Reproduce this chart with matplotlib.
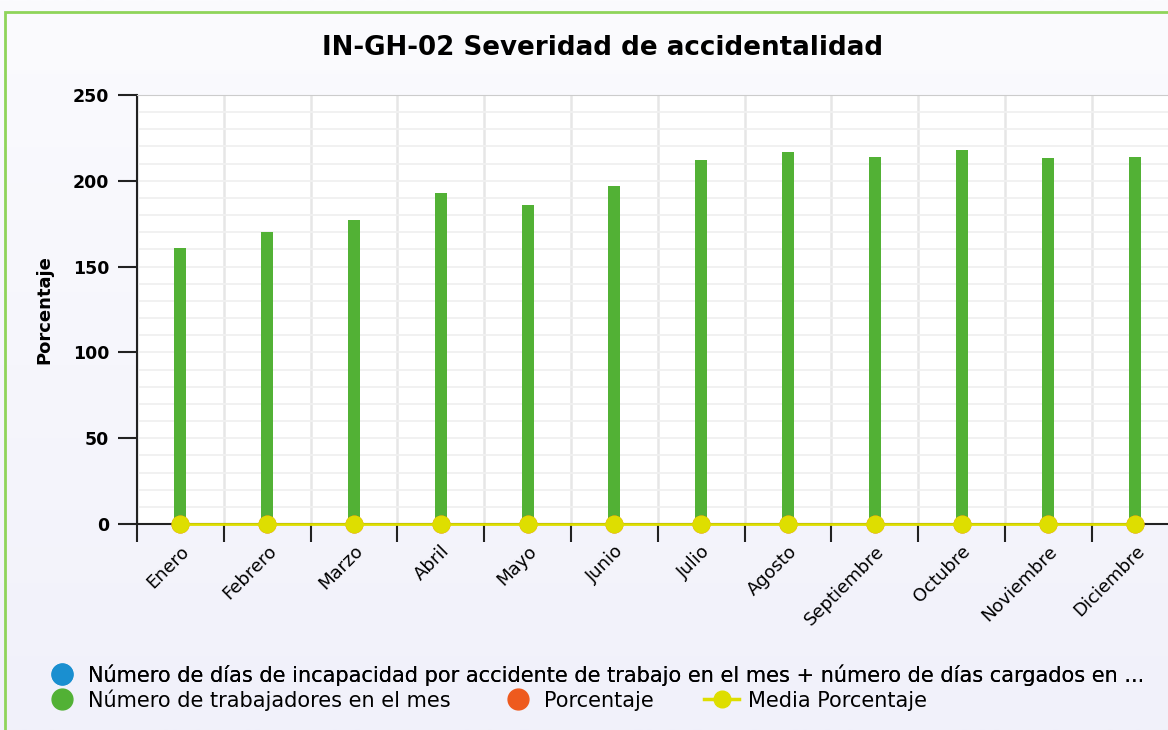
import matplotlib
matplotlib.use("Agg")
import matplotlib.pyplot as plt
import matplotlib.patches as mpatches
from matplotlib.lines import Line2D
import numpy as np

# datos del indicador
meses = ["Enero", "Febrero", "Marzo", "Abril", "Mayo", "Junio", "Julio",
         "Agosto", "Septiembre", "Octubre", "Noviembre", "Diciembre"]
dias_incapacidad = [0, 0, 0, 0, 0, 0, 0, 0, 0, 0, 0, 0]
trabajadores = [161, 170, 177, 193, 186, 197, 212, 217, 214, 218, 213, 214]
porcentaje = [0, 0, 0, 0, 0, 0, 0, 0, 0, 0, 0, 0]
media_porcentaje = [0, 0, 0, 0, 0, 0, 0, 0, 0, 0, 0, 0]

nombres = ["Número de días de incapacidad por accidente de trabajo en el mes + número de días cargados en ...",
           "Número de trabajadores en el mes", "Porcentaje", "Media Porcentaje"]

azul = "#1a8fd0"
verde = "#52b135"
naranja = "#ee5a1e"
amarillo = "#dede00"

plt.rcParams['font.family'] = ['DejaVu Sans']

fig = plt.figure(figsize=(11.68, 7.3), dpi=100)
fig.patch.set_facecolor("#f6f6fc")

# fondo degradado
bg = fig.add_axes([0, 0, 1, 1], zorder=-10)
grad = np.linspace(0, 1, 256).reshape(-1, 1)
bg.imshow(grad, aspect="auto", cmap=matplotlib.colors.LinearSegmentedColormap.from_list(
    "g", ["#fbfbfe", "#f1f1fa"]), extent=[0, 1, 1, 0])
bg.set_axis_off()

# borde verde
fig.add_artist(mpatches.Rectangle((5 / 1168, -0.05), 1.1, 1.05 - 12 / 730,
                                  transform=fig.transFigure, fill=False,
                                  edgecolor="#8fd45a", linewidth=2))

ax = fig.add_axes([137 / 1168, 206 / 730, 1041.6 / 1168, 429 / 730])
ax.set_facecolor("white")

x = np.arange(len(meses))
ax.bar(x, dias_incapacidad, width=0.14, color=azul, zorder=3)
ax.bar(x, trabajadores, width=0.14, color=verde, zorder=3)
ax.plot(x, porcentaje, "o", color=naranja, markersize=12, zorder=4, clip_on=False)
ax.plot(x, media_porcentaje, "-o", color=amarillo, markersize=12, linewidth=2, zorder=5,
        clip_on=False)

ax.set_xlim(-0.5, len(meses) - 0.5)
ax.set_ylim(0, 250)
ax.set_yticks([0, 50, 100, 150, 200, 250])
ax.set_yticks(np.arange(0, 251, 10), minor=True)
ax.set_xticks(np.arange(len(meses) + 1) - 0.5)
ax.set_xticklabels([])
ax.set_xticks(x, minor=True)
ax.set_xticklabels(meses, minor=True, rotation=45, ha="right", rotation_mode="anchor",
                   fontsize=13)
ax.tick_params(axis="x", which="minor", length=0, pad=13)
ax.tick_params(axis="x", which="major", length=13, width=1.5, color="#222222")
ax.tick_params(axis="y", which="major", length=14, width=1.5, color="#222222",
               labelsize=12.5, pad=6)
ax.tick_params(axis="y", which="minor", length=0)
for lab in ax.get_yticklabels():
    lab.set_fontweight("semibold")

ax.grid(True, axis="y", which="both", color="#f0f0f0", linewidth=1.3, zorder=0)
ax.grid(True, axis="x", which="major", color="#e6e6e6", linewidth=1.8, zorder=0)

ax.spines["left"].set_color("#222222")
ax.spines["left"].set_linewidth(1.5)
ax.spines["bottom"].set_color("#222222")
ax.spines["bottom"].set_linewidth(1.5)
ax.spines["top"].set_color("#cccccc")
ax.spines["right"].set_visible(False)

ax.set_ylabel("Porcentaje", fontsize=13, fontweight="semibold", labelpad=14)
fig.text(603 / 1168, 1 - 48 / 730, "IN-GH-02 Severidad de accidentalidad",
         ha="center", va="center", fontsize=18.8, fontweight="bold")

# leyenda
h1 = Line2D([], [], marker="o", linestyle="none", color=azul, markersize=15)
h2 = Line2D([], [], marker="o", linestyle="none", color=verde, markersize=15)
h3 = Line2D([], [], marker="o", linestyle="none", color=naranja, markersize=15)
h4 = Line2D([], [], marker="o", linestyle="-", color=amarillo, markersize=12, linewidth=2.5)
leg1 = fig.legend([h1], [nombres[0]], loc="center left", bbox_to_anchor=(44 / 1168, 1 - 675 / 730),
                  frameon=False, fontsize=15, handlelength=1.7, handletextpad=0.4,
                  borderpad=0, borderaxespad=0)
leg2 = fig.legend([h2, h3, h4], nombres[1:], loc="center left", bbox_to_anchor=(44 / 1168, 1 - 700 / 730),
                  frameon=False, fontsize=15, ncol=3, handlelength=1.7, handletextpad=0.4,
                  columnspacing=2.4, borderpad=0, borderaxespad=0)
fig.add_artist(leg1)

fig.savefig("out.png", dpi=100, facecolor=fig.get_facecolor())
